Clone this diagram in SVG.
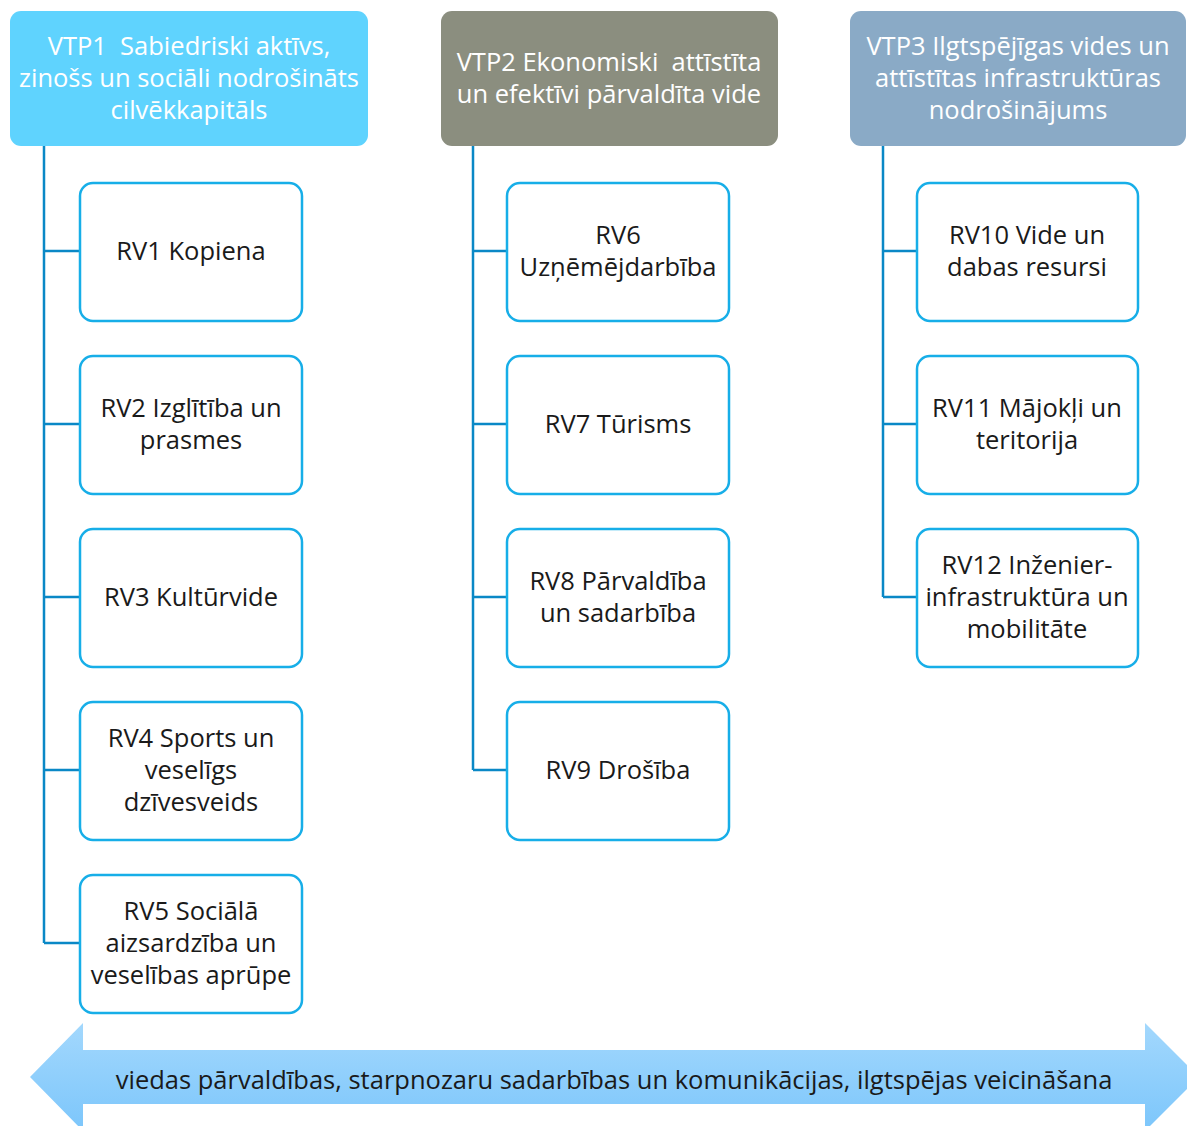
<svg xmlns="http://www.w3.org/2000/svg" width="1187" height="1126" viewBox="0 0 1187 1126">
<defs>
<linearGradient id="ag" x1="0" y1="0" x2="0" y2="1">
<stop offset="0" stop-color="#a3d8fd"/>
<stop offset="1" stop-color="#7cc6fb"/>
</linearGradient>
<style>
.hd{font-family:"Open Sans","Noto Sans",sans-serif;font-size:25.5px;fill:#ffffff;text-anchor:middle;white-space:pre}
.rv rect{fill:#ffffff;stroke:#17aee8;stroke-width:2.5}
.rv text,.lb{font-family:"Open Sans","Noto Sans",sans-serif;font-size:25.5px;fill:#1a1a1a;text-anchor:middle}
.cn{fill:none;stroke:#0a88c6;stroke-width:2.5}
</style>
</defs>
<rect width="1187" height="1126" fill="#ffffff"/>

<g id="connectors">
<path class="cn" d="M44 146V943M44 251H80M44 424H80M44 597H80M44 770H80M44 943H80"/>
<path class="cn" d="M473 146V770M473 251H507M473 424H507M473 597H507M473 770H507"/>
<path class="cn" d="M883 146V597M883 251H916M883 424H916M883 597H916"/>
</g>

<g id="vtp1"><rect x="10" y="11" width="358" height="135" rx="11" fill="#5fd3fe"/>
<text class="hd" x="189" y="55" xml:space="preserve">VTP1  Sabiedriski aktīvs,</text>
<text class="hd" x="189" y="87">zinošs un sociāli nodrošināts</text>
<text class="hd" x="189" y="119">cilvēkkapitāls</text></g>
<g id="vtp2"><rect x="441" y="11" width="337" height="135" rx="11" fill="#8b8e7f"/>
<text class="hd" x="609" y="71" xml:space="preserve">VTP2 Ekonomiski  attīstīta</text>
<text class="hd" x="609" y="103">un efektīvi pārvaldīta vide</text></g>
<g id="vtp3"><rect x="850" y="11" width="336" height="135" rx="11" fill="#8aaac6"/>
<text class="hd" x="1018" y="55">VTP3 Ilgtspējīgas vides un</text>
<text class="hd" x="1018" y="87">attīstītas infrastruktūras</text>
<text class="hd" x="1018" y="119">nodrošinājums</text></g>

<g id="rv1" class="rv"><rect x="80" y="183" width="222" height="138" rx="13"/><text x="191" y="260">RV1 Kopiena</text></g>
<g id="rv2" class="rv"><rect x="80" y="356" width="222" height="138" rx="13"/><text x="191" y="417">RV2 Izglītība un</text><text x="191" y="449">prasmes</text></g>
<g id="rv3" class="rv"><rect x="80" y="529" width="222" height="138" rx="13"/><text x="191" y="606">RV3 Kultūrvide</text></g>
<g id="rv4" class="rv"><rect x="80" y="702" width="222" height="138" rx="13"/><text x="191" y="747">RV4 Sports un</text><text x="191" y="779">veselīgs</text><text x="191" y="811">dzīvesveids</text></g>
<g id="rv5" class="rv"><rect x="80" y="875" width="222" height="138" rx="13"/><text x="191" y="920">RV5 Sociālā</text><text x="191" y="952">aizsardzība un</text><text x="191" y="984">veselības aprūpe</text></g>

<g id="rv6" class="rv"><rect x="507" y="183" width="222" height="138" rx="13"/><text x="618" y="244">RV6</text><text x="618" y="276">Uzņēmējdarbība</text></g>
<g id="rv7" class="rv"><rect x="507" y="356" width="222" height="138" rx="13"/><text x="618" y="433">RV7 Tūrisms</text></g>
<g id="rv8" class="rv"><rect x="507" y="529" width="222" height="138" rx="13"/><text x="618" y="590">RV8 Pārvaldība</text><text x="618" y="622">un sadarbība</text></g>
<g id="rv9" class="rv"><rect x="507" y="702" width="222" height="138" rx="13"/><text x="618" y="779">RV9 Drošība</text></g>

<g id="rv10" class="rv"><rect x="917" y="183" width="221" height="138" rx="13"/><text x="1027" y="244">RV10 Vide un</text><text x="1027" y="276">dabas resursi</text></g>
<g id="rv11" class="rv"><rect x="917" y="356" width="221" height="138" rx="13"/><text x="1027" y="417">RV11 Mājokļi un</text><text x="1027" y="449">teritorija</text></g>
<g id="rv12" class="rv"><rect x="917" y="529" width="221" height="138" rx="13"/><text x="1027" y="574">RV12 Inženier-</text><text x="1027" y="606">infrastruktūra un</text><text x="1027" y="638">mobilitāte</text></g>

<g id="arrow">
<path d="M30 1077L83 1023V1050H1145V1023L1199 1077L1145 1131V1104H83V1131Z" fill="url(#ag)"/>
<text class="lb" x="614" y="1089">viedas pārvaldības, starpnozaru sadarbības un komunikācijas, ilgtspējas veicināšana</text>
</g>
</svg>
